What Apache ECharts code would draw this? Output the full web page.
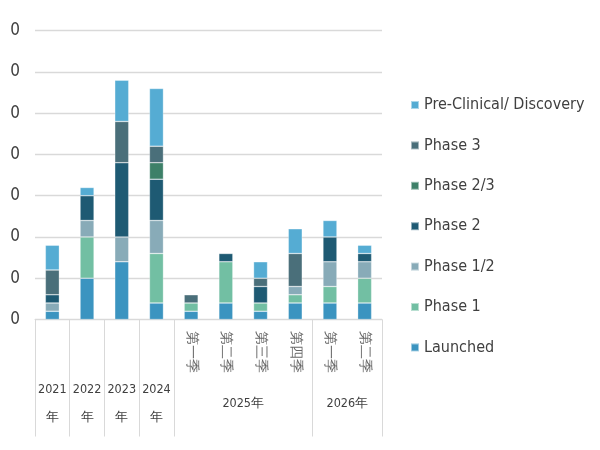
<!DOCTYPE html>
<html>
<head>
<meta charset="utf-8">
<script src="https://cdn.jsdelivr.net/npm/echarts@6/dist/echarts.min.js"></script>
<style>html,body{margin:0;padding:0;background:#fff}#c{width:600px;height:450px}</style>
</head>
<body>
<div id="c"></div>
<script>
// ---- data ----
const periods = ['2021','2022','2023','2024','2025Q1','2025Q2','2025Q3','2025Q4','2026Q1','2026Q2'];
const quarterLabels = ['','','','','第一季','第二季','第三季','第四季','第一季','第二季'];
const yearLabels = ['2021\n年','2022\n年','2023\n年','2024\n年','2025年','2026年'];
const yearSpans = [1,1,1,1,4,2];
const yTicks = [0,5,10,15,20,25,30,35];
const yTickLabels = ['0','0','0','0','0','0','0','0'];

const seriesNames = ['Launched','Phase 1','Phase 1/2','Phase 2','Phase 2/3','Phase 3','Pre-Clinical/ Discovery'];
const launched = [1,5,7,2,1,2,1,2,2,2];
const phase1   = [0,5,0,6,1,5,1,1,2,3];
const phase12  = [1,2,3,4,0,0,0,1,3,2];
const phase2   = [1,3,9,5,0,1,2,0,3,1];
const phase23  = [0,0,0,2,0,0,0,0,0,0];
const phase3   = [3,0,5,2,1,0,1,4,0,0];
const preclin  = [3,1,5,7,0,0,2,3,2,1];
const seriesValues = [launched, phase1, phase12, phase2, phase23, phase3, preclin];
const colors = ['#3b94c0','#72bfa3','#88abb8','#1e5a73','#3d8068','#4a6f7a','#55acd3'];

// ---- derived ----
const groupStarts = [];
let acc = 0;
yearSpans.forEach(s => { groupStarts.push(acc); acc += s; });
const halfSlots = new Array(periods.length * 2 + 1).fill('');
yearLabels.forEach((lab, i) => { halfSlots[groupStarts[i] * 2 + yearSpans[i]] = lab; });

const FONT = "'Liberation Sans Narrow','DejaVu Sans Condensed','Noto Sans',sans-serif";
const chart = echarts.init(document.getElementById('c'), null, {renderer: 'canvas'});

chart.setOption({
  animation: false,
  grid: {left: 35, right: 218, top: 30.7, bottom: 130.5, containLabel: false},
  legend: {
    orient: 'vertical', left: 405, top: 90,
    itemWidth: 8, itemHeight: 8, itemGap: 20.4, icon: 'rect',
    data: seriesNames.slice().reverse(),
    textStyle: {fontFamily: FONT, fontSize: 16, color: '#404040', lineHeight: 20}
  },
  xAxis: [{
    type: 'category', data: periods, position: 'bottom',
    axisLine: {show: true, lineStyle: {color: '#d9d9d9', width: 1}},
    axisTick: {show: true, length: 117, lineStyle: {color: '#d9d9d9', width: 1},
      interval: (idx) => groupStarts.indexOf(idx) !== -1},
    axisLabel: {interval: 0, rotate: -90, margin: 11, fontFamily: FONT, fontSize: 14, color: '#666666',
      formatter: (v, i) => quarterLabels[i]},
    splitLine: {show: false}
  }, {
    type: 'category', data: halfSlots.map((v, i) => 's' + i), position: 'bottom', boundaryGap: false,
    axisLine: {show: false}, axisTick: {show: false}, splitLine: {show: false},
    axisLabel: {interval: 0, margin: 84.5, verticalAlign: 'middle', fontFamily: FONT, fontSize: 12.5,
      color: '#404040', lineHeight: 28, formatter: (v, i) => halfSlots[i]}
  }],
  yAxis: {
    type: 'value', min: yTicks[0], max: yTicks[yTicks.length - 1], interval: yTicks[1] - yTicks[0],
    axisLine: {show: false}, axisTick: {show: false},
    splitLine: {lineStyle: {color: '#d9d9d9', width: 1.3}},
    axisLabel: {margin: 15, fontFamily: FONT, fontSize: 17, color: '#404040',
      formatter: (v) => yTickLabels[yTicks.indexOf(v)]}
  },
  series: seriesNames.map((name, k) => ({
    name: name, type: 'bar', stack: 'total', xAxisIndex: 0, barWidth: 14,
    itemStyle: {color: colors[k], borderColor: 'rgba(255,255,255,0.5)', borderWidth: 0.6},
    data: seriesValues[k].map(v => v === 0 ? null : v)
  }))
});
</script>
</body>
</html>
